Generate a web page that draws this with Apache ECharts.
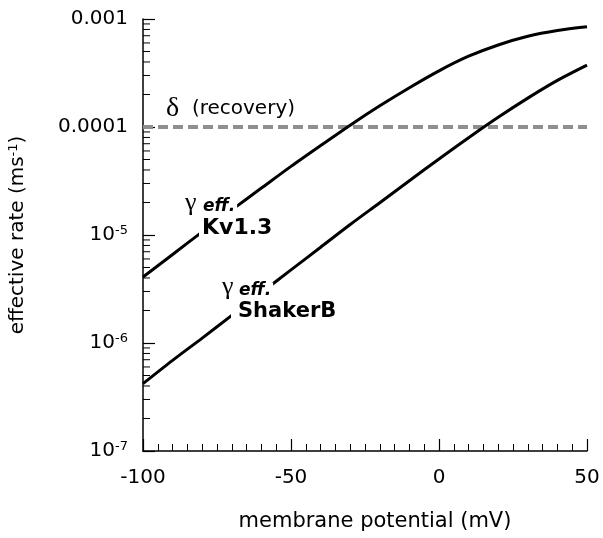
<!DOCTYPE html>
<html>
<head>
<meta charset="utf-8">
<script src="https://cdn.jsdelivr.net/npm/echarts@6/dist/echarts.min.js"></script>
<style>html,body{margin:0;padding:0;background:#fff}#c{width:603px;height:538px}</style>
</head>
<body>
<div id="c"></div>
<script>
// membrane potential (mV)
const voltages = [-100, -90, -80, -70, -60, -50, -40, -30, -20, -10, 0, 10, 20, 30, 40, 50];
// gamma_eff Kv1.3 (ms^-1)
const kv13 = [4.08e-6, 6.6e-6, 1.07e-5, 1.71e-5, 2.72e-5, 4.32e-5, 6.73e-5, 1.04e-4, 1.57e-4, 2.31e-4, 3.31e-4, 4.52e-4, 5.75e-4, 6.92e-4, 7.82e-4, 8.47e-4];
// gamma_eff ShakerB (ms^-1)
const shakerB = [4.2e-7, 6.9e-7, 1.11e-6, 1.8e-6, 2.93e-6, 4.75e-6, 7.7e-6, 1.25e-5, 1.99e-5, 3.18e-5, 5.06e-5, 7.96e-5, 1.23e-4, 1.85e-4, 2.7e-4, 3.74e-4];
// delta (recovery)
const deltaX = [-100, 50];
const deltaValue = 1e-4;
// axis ticks
const xTickLabels = ['-100', '-50', '0', '50'];
const yTickValues = [1e-7, 1e-6, 1e-5, 1e-4, 1e-3];
const yTickLabels = ['10^-7', '10^-6', '10^-5', '0.0001', '0.001'];
const yMinorTicks = [];
[1e-7, 1e-6, 1e-5, 1e-4].forEach(d => { [2,3,4,5,6,7,8,9].forEach(m => yMinorTicks.push(+(d * m).toPrecision(3))); });

const chart = echarts.init(document.getElementById('c'));
const FONT = 'DejaVu Sans';

function yLabel(v) {
  let best = 0, bd = Infinity;
  yTickValues.forEach((t, i) => { const d = Math.abs(Math.log10(v) - Math.log10(t)); if (d < bd) { bd = d; best = i; } });
  const s = yTickLabels[best];
  if (s.indexOf('^') >= 0) {
    const p = s.split('^');
    return '{b|' + p[0] + '}{s|' + p[1] + '}';
  }
  return '{b|' + s + '}';
}

const labelBg = { backgroundColor: '#fff', padding: [0, 2, 0, 2] };

chart.setOption({
  animation: false,
  backgroundColor: '#fff',
  grid: { left: 143, right: 16, top: 19, bottom: 87 },
  xAxis: {
    type: 'value', min: -100, max: 50, interval: 50,
    axisLine: { onZero: false, lineStyle: { color: '#000', width: 1.5 } },
    axisTick: { inside: true, length: 12, lineStyle: { color: '#000', width: 1.2 } },
    minorTick: { show: true, splitNumber: 10, length: 7, lineStyle: { color: '#000', width: 1 } },
    splitLine: { show: false },
    axisLabel: {
      margin: 17, color: '#000', fontFamily: FONT, fontSize: 20,
      formatter: v => { const i = [-100, -50, 0, 50].indexOf(Math.round(v)); return i >= 0 ? xTickLabels[i] : ''; }
    }
  },
  yAxis: {
    type: 'log', logBase: 10, min: 1e-7, max: 1e-3,
    axisLine: { show: true, onZero: false, lineStyle: { color: '#000', width: 1.5 } },
    axisTick: { show: true, inside: true, length: 12, lineStyle: { color: '#000', width: 1.2 } },
    splitLine: { show: false },
    axisLabel: {
      margin: 15, color: '#000', formatter: yLabel,
      rich: {
        b: { fontFamily: FONT, fontSize: 20, lineHeight: 22, color: '#000' },
        s: { fontFamily: FONT, fontSize: 13, lineHeight: 13, verticalAlign: 'top', color: '#000' }
      }
    }
  },
  series: [
    {
      type: 'line', data: deltaX.map(x => [x, deltaValue]), symbol: 'none', silent: true,
      lineStyle: { color: '#8f8f8f', width: 4, type: [10, 5] }, z: 1
    },
    {
      type: 'line', data: voltages.map((v, i) => [v, kv13[i]]), symbol: 'none', smooth: 0.3,
      lineStyle: { color: '#000', width: 3 }, z: 3
    },
    {
      type: 'line', data: voltages.map((v, i) => [v, shakerB[i]]), symbol: 'none', smooth: 0.3,
      lineStyle: { color: '#000', width: 3 }, z: 3
    },
    {
      type: 'custom', silent: true, z: 4,
      data: yMinorTicks.map(v => [-100, v]),
      renderItem: (params, api) => {
        const p = api.coord([api.value(0), api.value(1)]);
        return { type: 'line', shape: { x1: p[0], y1: p[1], x2: p[0] + 7, y2: p[1] }, style: { stroke: '#000', lineWidth: 1 } };
      }
    }
  ],
  graphic: [
    { type: 'text', x: 166, y: 109, z: 10, style: { text: '{d|δ}{r|  (recovery)}', verticalAlign: 'middle', rich: {
      d: { fontFamily: 'Liberation Serif', fontSize: 28, fill: '#000' },
      r: { fontFamily: FONT, fontSize: 20, fill: '#000' } } } },
    { type: 'text', x: 183, y: 203, z: 10, style: Object.assign({ text: 'γ', font: '26px "Liberation Serif"', fill: '#000', verticalAlign: 'middle' }, labelBg) },
    { type: 'text', x: 201, y: 207, z: 10, style: Object.assign({ text: 'eff.', font: 'italic bold 17px "DejaVu Sans"', fill: '#000', verticalAlign: 'middle' }, labelBg) },
    { type: 'text', x: 199, y: 228, z: 10, style: { text: 'Kv1.3', font: 'bold 22px "DejaVu Sans"', fill: '#000', verticalAlign: 'middle', padding: [2, 4, 2, 3], backgroundColor: '#fff' } },
    { type: 'text', x: 220, y: 287, z: 10, style: Object.assign({ text: 'γ', font: '26px "Liberation Serif"', fill: '#000', verticalAlign: 'middle' }, labelBg) },
    { type: 'text', x: 237, y: 291, z: 10, style: Object.assign({ text: 'eff.', font: 'italic bold 17px "DejaVu Sans"', fill: '#000', verticalAlign: 'middle' }, labelBg) },
    { type: 'text', x: 231, y: 312, z: 10, style: { text: 'ShakerB', font: 'bold 21px "DejaVu Sans"', fill: '#000', verticalAlign: 'middle', padding: [8, 3, 2, 7], backgroundColor: '#fff' } },
    { type: 'text', x: 375, y: 522, style: { text: 'membrane potential (mV)', font: '21px "DejaVu Sans"', fill: '#000', align: 'center', verticalAlign: 'middle' } },
    { type: 'text', x: 18, y: 235, rotation: Math.PI / 2, style: { text: '{n|effective rate (ms}{s|-1}{n|)}', align: 'center', verticalAlign: 'middle', rich: {
      n: { fontFamily: FONT, fontSize: 20, lineHeight: 22, fill: '#000' },
      s: { fontFamily: FONT, fontSize: 13, lineHeight: 13, verticalAlign: 'top', fill: '#000' } } } }
  ]
});
</script>
</body>
</html>
